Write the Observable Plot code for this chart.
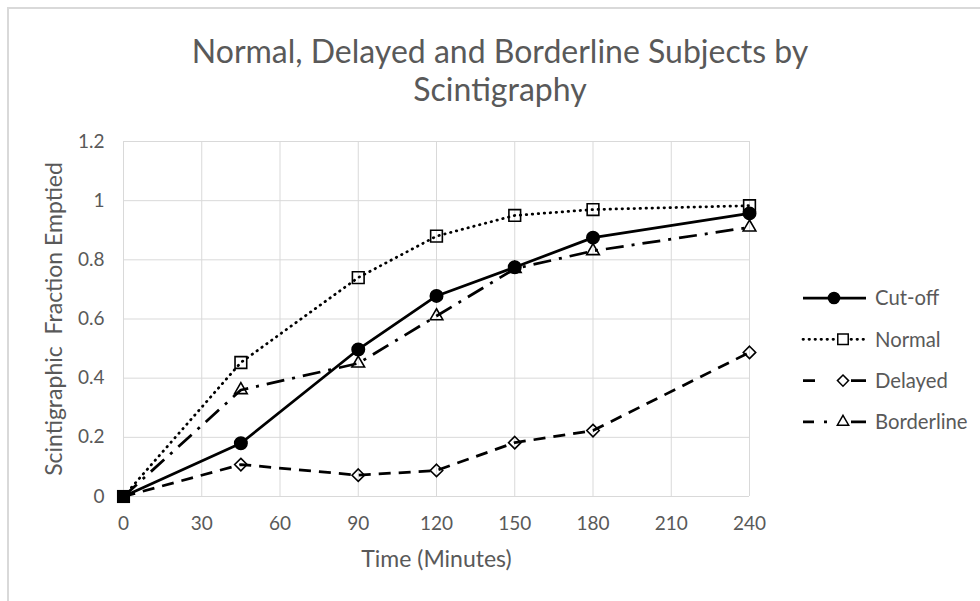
<!DOCTYPE html>
<html><head><meta charset="utf-8">
<script src="https://cdn.jsdelivr.net/npm/d3@7"></script>
<script src="https://cdn.jsdelivr.net/npm/@observablehq/plot@0.6"></script>
<style>
body{margin:0;background:#fff;}
#chart{position:relative;width:980px;height:601px;overflow:hidden;background:#fff;}
#chart svg{position:absolute;left:0;top:0;background:transparent;}
#frame{position:absolute;left:7px;top:7px;width:1000px;height:700px;border-top:2px solid #d9d9d9;border-left:2px solid #d9d9d9;pointer-events:none;}
</style></head><body>
<div id="chart"></div>
<script>
// ---- data ----
const times = [0, 45, 90, 120, 150, 180, 240];
const cutoff = [0, 0.18, 0.497, 0.678, 0.775, 0.875, 0.957];
const normal = [0, 0.453, 0.74, 0.88, 0.95, 0.97, 0.983];
const delayed = [0, 0.108, 0.072, 0.088, 0.182, 0.223, 0.487];
const borderline = [0, 0.36, 0.45, 0.61, 0.77, 0.83, 0.91];
const seriesNames = ["Cut-off", "Normal", "Delayed", "Borderline"];
const xTicks = [0, 30, 60, 90, 120, 150, 180, 210, 240];
const yTicks = [0, 0.2, 0.4, 0.6, 0.8, 1, 1.2];
const titleLines = ["Normal, Delayed and Borderline Subjects by", "Scintigraphy"];
const xLabel = "Time (Minutes)";
const yLabel = "Scintigraphic\u00a0\u00a0Fraction Emptied";

// ---- styles ----
const FONT = "Lato, 'Open Sans', sans-serif";
const GREY = "#595959";
const LW = 2.75;
const styles = {
  "Cut-off":    {dash: null,        legendDash: null,           cap: "butt",  symbol: "circle",   fill: "black", r: 6.2},
  "Normal":     {dash: "0.5,5.5",   legendDash: "0.5,5.5",      cap: "round", symbol: "square",   fill: "none",  r: 6.6},
  "Delayed":    {dash: "12,8",      legendDash: "12,36,15",     cap: "butt",  symbol: "diamond2", fill: "none",  r: 5.6},
  "Borderline": {dash: "18,8,3,8",  legendDash: "11,10,3,24,15", cap: "butt", symbol: "triangle", fill: "none",  r: 4.7}
};
const valuesBySeries = {"Cut-off": cutoff, "Normal": normal, "Delayed": delayed, "Borderline": borderline};
const rows = name => times.map((t, i) => ({series: name, t, v: valuesBySeries[name][i]}));

const marks = [
  Plot.gridX(xTicks, {stroke: "#d9d9d9", strokeOpacity: 1, strokeWidth: 1}),
  Plot.gridY(yTicks, {stroke: "#d9d9d9", strokeOpacity: 1, strokeWidth: 1}),
  Plot.axisX(xTicks, {tickSize: 0, tickPadding: 20, fontSize: 19, color: GREY, label: null}),
  Plot.axisY(yTicks, {tickSize: 0, tickPadding: 19, fontSize: 19, color: GREY, label: null, tickFormat: d => String(d)}),
  Plot.text([xLabel], {text: d => d, frameAnchor: "bottom", textAnchor: "middle", dy: 70, fontSize: 23, fill: GREY}),
  Plot.text([yLabel], {text: d => d, frameAnchor: "left", textAnchor: "middle", dx: -69, rotate: -90, fontSize: 23, fill: GREY})
];
for (const name of seriesNames) {
  const s = styles[name];
  const d = rows(name);
  marks.push(Plot.line(d, {x: "t", y: "v", stroke: "black", strokeWidth: LW,
    strokeDasharray: s.dash, strokeLinecap: s.cap}));
  marks.push(Plot.dot(d.filter(p => p.t > 0), {x: "t", y: "v", symbol: s.symbol, r: s.r,
    fill: s.fill, stroke: "black", strokeWidth: 1.6}));
}
// overlapping markers at the origin render as a solid square
marks.push(Plot.dot(rows("Normal").filter(p => p.t === 0), {x: "t", y: "v", symbol: "square", r: 7.4, fill: "black"}));

const svgNode = Plot.plot({
  width: 980, height: 601,
  marginLeft: 123, marginRight: 231, marginTop: 141, marginBottom: 105,
  x: {domain: [0, 240]},
  y: {domain: [0, 1.2]},
  style: {fontFamily: FONT, fontSize: "19px", color: GREY, background: "transparent"},
  marks
});
const chart = document.getElementById("chart");
chart.appendChild(svgNode);
const frame = document.createElement("div");
frame.id = "frame";
chart.appendChild(frame);

const svg = d3.select(svgNode);
// ---- title ----
const titleG = svg.append("g").attr("font-family", FONT).attr("fill", GREY).attr("text-anchor", "middle");
titleLines.forEach((line, i) => {
  titleG.append("text").attr("x", 500).attr("y", 63 + i * 38).attr("font-size", 32).text(line);
});

// ---- legend ----
const symbolMap = {circle: d3.symbolCircle, square: d3.symbolSquare, diamond2: d3.symbolDiamond2, triangle: d3.symbolTriangle};
const leg = svg.append("g").attr("font-family", FONT).attr("text-anchor", "start");
seriesNames.forEach((name, i) => {
  const s = styles[name];
  const y = 298 + i * 41.3;
  const mx = s.symbol === "circle" ? 834 : 843;
  const g = leg.append("g").attr("transform", `translate(0,${y})`);
  g.append("line").attr("x1", 803).attr("x2", 866).attr("y1", 0).attr("y2", 0)
    .attr("stroke", "black").attr("stroke-width", LW)
    .attr("stroke-dasharray", s.legendDash).attr("stroke-linecap", s.cap);
  g.append("path").attr("transform", `translate(${mx},0)`)
    .attr("d", d3.symbol(symbolMap[s.symbol], Math.PI * s.r * s.r * 0.8)())
    .attr("fill", s.fill === "none" ? "white" : s.fill).attr("stroke", "black").attr("stroke-width", 1.5);
  g.append("text").attr("x", 875).attr("y", 0).attr("dy", "0.36em").attr("font-size", 20.3)
    .attr("fill", GREY).text(name);
});
</script>
</body></html>
